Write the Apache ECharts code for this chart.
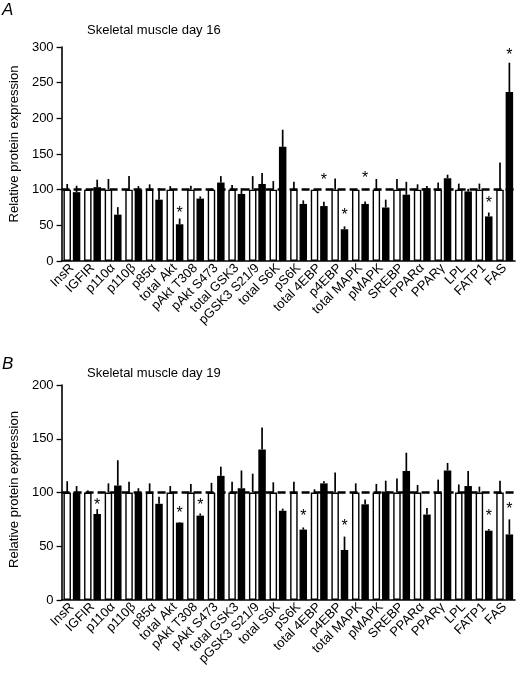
<!DOCTYPE html>
<html>
<head>
<meta charset="utf-8">
<script src="https://cdn.jsdelivr.net/npm/echarts@6/dist/echarts.min.js"></script>
<style>
html,body{margin:0;padding:0;background:#fff;}
#chart{width:517px;height:674px;}
</style>
</head>
<body>
<div id="chart"></div>
<script>
// ---------- DATA ----------
const categories = ['InsR','IGFIR','p110α','p110β','p85α','total Akt','pAkt T308','pAkt S473','total GSK3','pGSK3 S21/9','total S6K','pS6K','total 4EBP','p4EBP','total MAPK','pMAPK','SREBP','PPARα','PPARγ','LPL','FATP1','FAS'];

// Panel A: Skeletal muscle day 16
const controlA    = [100,100,100,100,100,100,100,100,100,100,100,100,100,100,100,100,100,100,100,100,100,100];
const controlErrA = [8,1,15,19,7.5,5,5.5,1.5,6.5,19,12,11,1,15.5,1,15,15,7.5,10,8.5,8.5,38];
const treatA      = [96.5,103.5,65,100,86,51.5,87.5,110,94,108,160,80,77,44.5,80,75,93,102,116,97.5,62.5,237];
const treatErrA   = [9,10.5,10.5,5,16,8,3,9,8,15.5,24,5,6,4,3.5,11,18,3,5,3.5,5.5,41];
const starsA      = [['total Akt',72],['total 4EBP',118],['p4EBP',69],['total MAPK',121],['FATP1',86],['FAS',294]];

// Panel B: Skeletal muscle day 19
const controlB    = [100,100,100,100,100,100,100,100,100,100,100,100,100,100,100,100,100,100,100,100,100,100];
const controlErrB = [10.5,2,8.5,10,8.5,6,8,9,10,17.5,9.5,10,3,18.5,8.5,8,13,7,12,7.5,5.5,11];
const treatB      = [100,80,106.5,100,89.5,72,78.5,115.5,104,140,83,65.5,108.5,46.5,89,101,120,79.5,120.5,106,64.5,61];
const treatErrB   = [6,4.5,23.5,4,6.5,0.5,2,8.5,16.5,20.5,2,2,2,12.5,4.5,10,17,6,7,14,1.5,14];
const starsB      = [['IGFIR',92],['total Akt',84.5],['pAkt T308',92],['pS6K',81.5],['p4EBP',72],['FATP1',81],['FAS',88]];

const ticksA = {min:0, max:300, interval:50};
const ticksB = {min:0, max:200, interval:50};

// ---------- STYLE ----------
const FONT = 'Liberation Sans, Arial, Helvetica, sans-serif';
const BAR_W = 7.5;
const GAP_FRAC = 0.25;
const OFF = BAR_W * (1 + GAP_FRAC) / 2;

const chart = echarts.init(document.getElementById('chart'), null, {renderer:'canvas'});

function errSeries(gi, means, errs, side) {
  return {
    type:'custom', xAxisIndex:gi, yAxisIndex:gi, z:5,
    encode:{x:0, y:1},
    data: means.map((m,i)=>[i, m, errs[i]]),
    renderItem: function(params, api){
      const b = api.coord([api.value(0), api.value(1)]);
      const t = api.coord([api.value(0), api.value(1) + api.value(2)]);
      const x = b[0] + side*OFF;
      return {type:'line', shape:{x1:x, y1:b[1], x2:x, y2:t[1]}, style:{stroke:'#000', lineWidth:1.7}};
    }
  };
}
function starSeries(gi, stars) {
  return {
    type:'custom', xAxisIndex:gi, yAxisIndex:gi, z:6,
    encode:{x:0, y:1},
    data: stars.map(s=>[categories.indexOf(s[0]), s[1]]),
    renderItem: function(params, api){
      const p = api.coord([api.value(0), api.value(1)]);
      return {type:'text', style:{text:'*', x:p[0]+OFF, y:p[1]+4, align:'center', verticalAlign:'middle',
        font:'16px ' + FONT, fill:'#000'}};
    }
  };
}
function xAxis(gi){
  return {
    type:'category', gridIndex:gi, data:categories,
    axisLine:{lineStyle:{color:'#000', width:1.6}},
    axisTick:{alignWithLabel:true, length:4, lineStyle:{color:'#000', width:1.3}},
    axisLabel:{rotate:45, interval:0, margin:5, color:'#000', fontSize:13, fontFamily:FONT}
  };
}
function yAxis(gi, t, shiftPad){
  return {
    type:'value', gridIndex:gi, min:t.min, max:t.max, interval:t.interval,
    name:'Relative protein expression', nameLocation:'middle', nameGap:36,
    nameTextStyle:{color:'#000', fontSize:13, fontFamily:FONT, padding:[0,0,0,shiftPad]},
    axisLine:{show:true, lineStyle:{color:'#000', width:1.6}},
    axisTick:{show:true, length:5, lineStyle:{color:'#000', width:1.3}},
    axisLabel:{color:'#000', fontSize:13, fontFamily:FONT, margin:8},
    splitLine:{show:false}
  };
}
function barPair(gi, ctrl, trt){
  return [
    {type:'bar', xAxisIndex:gi, yAxisIndex:gi, data:ctrl, barWidth:BAR_W, barGap:(GAP_FRAC*100)+'%',
     itemStyle:{color:'#fff', borderColor:'#000', borderWidth:1.4}, z:2},
    {type:'bar', xAxisIndex:gi, yAxisIndex:gi, data:trt, barWidth:BAR_W, barGap:(GAP_FRAC*100)+'%',
     itemStyle:{color:'#000'}, z:3,
     markLine:{symbol:'none', silent:true, z:4, label:{show:false},
       lineStyle:{color:'#000', type:[8,4], width:2.5}, data:[{yAxis:100}]}}
  ];
}

const option = {
  animation:false,
  backgroundColor:'#fff',
  title:[
    {text:'A', left:2, top:2, padding:0, textStyle:{fontStyle:'italic', fontWeight:'normal', fontSize:17, fontFamily:FONT, color:'#000'}},
    {text:'Skeletal muscle day 16', left:87, top:24, padding:0, textStyle:{fontWeight:'normal', fontSize:13, fontFamily:FONT, color:'#000'}},
    {text:'B', left:2, top:356, padding:0, textStyle:{fontStyle:'italic', fontWeight:'normal', fontSize:17, fontFamily:FONT, color:'#000'}},
    {text:'Skeletal muscle day 19', left:87, top:367, padding:0, textStyle:{fontWeight:'normal', fontSize:13, fontFamily:FONT, color:'#000'}}
  ],
  grid:[
    {left:60, top:47, width:455, height:214},
    {left:60, top:385, width:455, height:215}
  ],
  xAxis:[xAxis(0), xAxis(1)],
  yAxis:[yAxis(0, ticksA, 20), yAxis(1, ticksB, 6)],
  series:[
    ...barPair(0, controlA, treatA),
    errSeries(0, controlA, controlErrA, -1),
    errSeries(0, treatA, treatErrA, 1),
    starSeries(0, starsA),
    ...barPair(1, controlB, treatB),
    errSeries(1, controlB, controlErrB, -1),
    errSeries(1, treatB, treatErrB, 1),
    starSeries(1, starsB)
  ]
};
chart.setOption(option);
</script>
</body>
</html>
